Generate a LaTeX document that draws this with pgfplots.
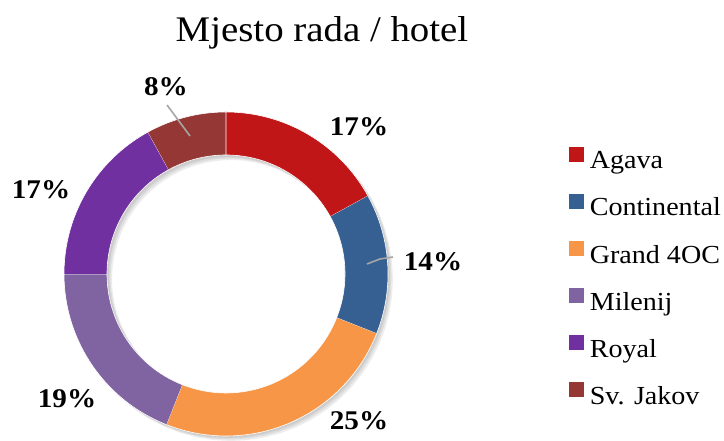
\documentclass[border=0pt]{standalone}
\usepackage{fontspec}
\setmainfont{Liberation Serif}[FakeStretch=1.08]
\usepackage{pgfplots}
\pgfplotsset{compat=1.18}
\definecolor{cAgava}{RGB}{192,22,24}
\definecolor{cCont}{RGB}{55,96,146}
\definecolor{cGrand}{RGB}{247,150,70}
\definecolor{cMil}{RGB}{128,100,162}
\definecolor{cRoyal}{RGB}{112,48,160}
\definecolor{cJakov}{RGB}{149,55,53}
% ring slice from start% to end% (clockwise from top), outer radius 162, inner 119
\newcommand{\ringslice}[4]{%
  \addplot[#1] ({#4+(162-43*min(max(\t-1,0),1))*cos(90-3.6*(#2+(#3-#2)*min(\t,1)-(#3-#2)*max(\t-2,0)))},
               {-#4+(162-43*min(max(\t-1,0),1))*sin(90-3.6*(#2+(#3-#2)*min(\t,1)-(#3-#2)*max(\t-2,0)))});}
\begin{document}
\begin{tikzpicture}
\begin{axis}[
  scale only axis, width=362pt, height=217pt,
  xmin=-226, xmax=498, ymin=-160, ymax=274,
  hide axis, clip=false,
  domain=0:3, samples=181, variable=\t,
  legend style={draw=none, fill=none, inner sep=0pt, outer sep=0pt,
    at={(axis cs:343,127)}, anchor=north west,
    font=\fontsize{13}{15}\selectfont,
    nodes={inner sep=0pt, text height=9pt, text depth=3pt},
    row sep=9.6pt, column sep=3pt},
  legend cell align=left,
  legend image code/.code={\fill[#1, draw=none] (0pt,0.55pt) rectangle (7.4pt,7.95pt);},
]
\path (rel axis cs:0,0) rectangle (rel axis cs:1,1);
% soft shadow of the ring
\ringslice{fill=black, fill opacity=0.07, draw=none, forget plot}{0}{100}{5}
\ringslice{fill=black, fill opacity=0.07, draw=none, forget plot}{0}{100}{3.5}
\ringslice{fill=black, fill opacity=0.07, draw=none, forget plot}{0}{100}{2}
% slices: values 17, 14, 25, 19, 17, 8 (%)
\ringslice{fill=cAgava, draw=white, line width=0.3pt}{0}{17}{0}
\addlegendentry{Agava}
\ringslice{fill=cCont, draw=white, line width=0.3pt}{17}{31}{0}
\addlegendentry{Continental}
\ringslice{fill=cGrand, draw=white, line width=0.3pt}{31}{56}{0}
\addlegendentry{Grand 4OC}
\ringslice{fill=cMil, draw=white, line width=0.3pt}{56}{75}{0}
\addlegendentry{Milenij}
\ringslice{fill=cRoyal, draw=white, line width=0.3pt}{75}{92}{0}
\addlegendentry{Royal}
\ringslice{fill=cJakov, draw=white, line width=0.3pt}{92}{100}{0}
\addlegendentry{Sv. Jakov}
% leader lines
\addplot[gray!70, line width=0.8pt, forget plot] coordinates {(-59,169) (-36,138)};
\addplot[gray!70, line width=0.8pt, forget plot] coordinates {(141,10) (154,15) (167,17)};
% labels
\node[anchor=base, font=\fontsize{18}{20}\selectfont] at (axis cs:96,232) {Mjesto rada / hotel};
\tikzset{pl/.style={font=\bfseries\fontsize{13.5}{15}\selectfont}}
\node[pl] at (axis cs:133,147) {17\%};
\node[pl] at (axis cs:207,12) {14\%};
\node[pl] at (axis cs:133,-147) {25\%};
\node[pl] at (axis cs:-159,-125) {19\%};
\node[pl] at (axis cs:-185,84) {17\%};
\node[pl] at (axis cs:-60,187) {8\%};
\end{axis}
\end{tikzpicture}
\end{document}
